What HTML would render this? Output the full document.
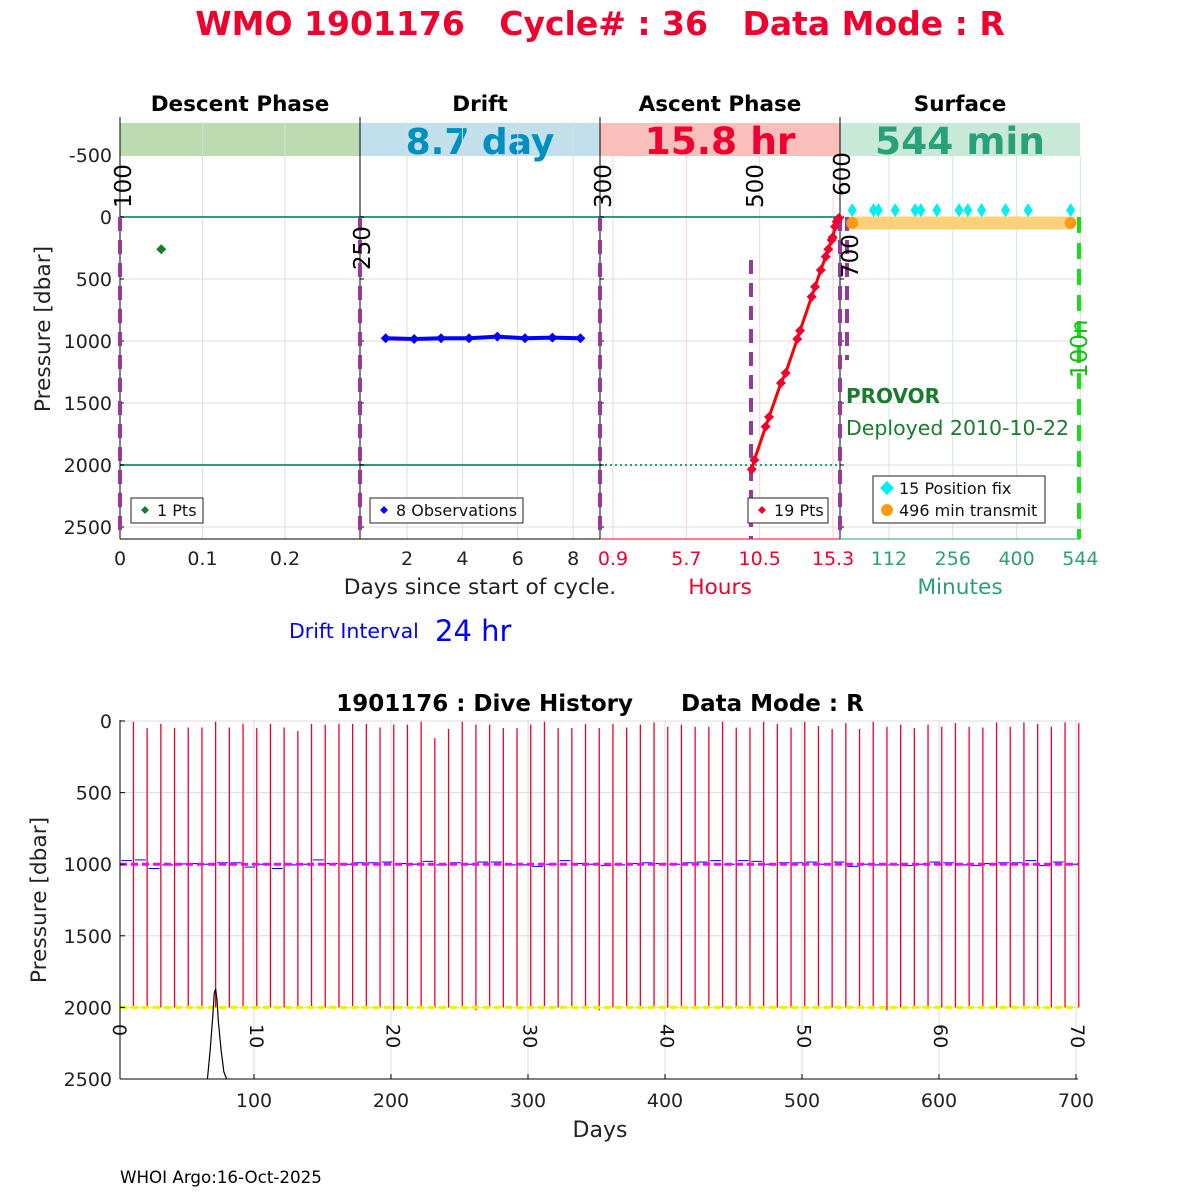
<!DOCTYPE html>
<html><head><meta charset="utf-8"><style>
body{margin:0;background:#fff}
svg{display:block;font-family:"DejaVu Sans","Liberation Sans",sans-serif}
text{white-space:pre}
</style></head><body>
<svg id="s" width="1200" height="1200" viewBox="0 0 1200 1200" xmlns="http://www.w3.org/2000/svg">
<text x="600" y="35" text-anchor="middle" font-size="33" font-weight="bold" fill="#f0002e" xml:space="preserve">WMO 1901176   Cycle# : 36   Data Mode : R</text>
<g id="topG"></g>
<g id="bot"></g>
<text x="120" y="1183" font-size="16.7" fill="#000">WHOI Argo:16-Oct-2025</text>
</svg>
<script>
// ---------- data: top panel ----------
const yTicks=[-500,0,500,1000,1500,2000,2500];
const descentDays=[0.05];
const descentPres=[260];
const driftDays=[1.23,2.26,3.23,4.24,5.26,6.26,7.25,8.26];
const driftPres=[978,984,978,978,965,978,973,978];
const ascentHours=[9.98,10.15,10.89,11.11,11.89,12.20,12.96,13.14,13.90,14.12,14.50,14.82,14.99,15.21,15.28,15.43,15.54,15.62,15.69];
const ascentPres=[2035,1960,1691,1613,1339,1258,984,917,643,562,427,320,260,185,164,78,38,16,8];
const fixMinutes=[29,77,88,126,171,184,220,270,290,321,375,426,522];
const fixPres=[-55,-55,-55,-55,-55,-55,-55,-55,-55,-55,-55,-55,-55];
const transmitMinutes=[29,522];
const transmitPres=[48,48];
const descentTicks=[0,0.1,0.2];
const driftTicks=[2,4,6,8];
const ascentTicks=[0.9,5.7,10.5,15.3];
const surfaceTicks=[112,256,400,544];
// ---------- data: dive history ----------
const profileDays=[12,22,32,42,52,62,72,82,92,102,112,122,132,142,152,162,172,182,192,202,212,222,232,242,252,262,272,282,292,302,312,322,332,342,352,362,372,382,392,402,412,422,432,442,452,462,472,482,492,502,512,522,532,542,552,562,572,582,592,602,612,622,632,642,652,662,672,682,692,702];
const profileTop=[5,50,20,50,45,45,5,45,20,50,20,45,70,20,25,20,20,20,45,25,25,5,120,55,5,25,25,50,50,25,5,50,50,20,50,20,45,25,10,40,25,40,40,5,45,45,5,20,45,5,35,55,15,55,5,40,25,50,25,40,15,40,45,10,40,10,20,40,10,15];
const profileBottom=[2000,2000,2000,2000,2000,2000,2000,2000,2000,2000,2000,2000,2000,2000,2000,2000,2000,2000,2000,2020,2000,2000,2000,2000,2000,2020,2000,2000,2000,2000,2000,2000,2000,2000,2020,2000,2000,2000,2000,2000,2000,2000,2000,2000,2000,2000,2000,2000,2000,2000,2000,2000,2000,2000,2000,2020,2000,2000,2000,2000,2000,2000,2000,2000,2000,2000,2000,2000,2000,2000];
const driftMean=[975,970,1030,1005,998,995,1000,990,990,1020,1000,1030,1005,1000,970,995,1000,990,990,985,995,1000,980,1005,990,1000,985,985,1005,1005,1015,1000,975,995,1000,1010,1005,995,990,995,1000,990,985,975,1000,975,980,1000,990,990,985,1000,985,1015,1000,1005,1005,1010,1000,985,990,1005,1010,995,990,990,975,1010,985,1000];
const histDays=[66,68,70,71,72,73,74,76,78,80];
const histPres=[2500,2300,2050,1900,1870,1950,2100,2300,2450,2500];
const bxTicks=[100,200,300,400,500,600,700];
const byTicks=[0,500,1000,1500,2000,2500];
const cycleTicks=[0,10,20,30,40,50,60,70];

{
const NS="http://www.w3.org/2000/svg";
function mk(par,tag,at,txt){const e=document.createElementNS(NS,tag);for(const k in at)e.setAttribute(k,at[k]);if(txt!==undefined)e.textContent=txt;par.appendChild(e);return e;}
const topG=document.getElementById('topG'),bot=document.getElementById('bot');
const py=p=>217+p*0.124;
const xD=d=>120+d*825, xR=d=>407+(d-2)*27.7, xA=h=>613+(h-0.9)*15.28, xS=m=>889+(m-112)*0.443;
const T=122,B=539;
const bands=[[120,'#bcdbb0','Descent Phase','','#000',0],[360,'#c1e0eb','Drift','8.7 day','#0090c0',36],[600,'#fbbfbb','Ascent Phase','15.8 hr','#f0002e',37.5],[840,'#c8e8d8','Surface','544 min','#2aa07a',37.5]];
bands.forEach((b,i)=>{
  let r=mk(topG,'rect',{x:b[0],y:123,width:240,height:33,fill:b[1]});
  
  
  let t=mk(topG,'text',{x:b[0]+120,y:111,'text-anchor':'middle','font-size':21.5,'font-weight':'bold',fill:'#000'},b[2]);
  
  
  if(b[3]){let v=mk(topG,'text',{x:b[0]+120,y:154,'text-anchor':'middle','font-size':b[5],'font-weight':'bold',fill:b[4]},b[3]);
  
  }
});
yTicks.forEach(v=>{if(v>=0)mk(topG,'line',{x1:120,x2:1080,y1:py(v),y2:py(v),stroke:'#dcdcdc','stroke-width':1});});
descentTicks.forEach(v=>{if(v>0)mk(topG,'line',{x1:xD(v),x2:xD(v),y1:T,y2:B,stroke:'#dcdcdc'});});
driftTicks.forEach(v=>mk(topG,'line',{x1:xR(v),x2:xR(v),y1:T,y2:B,stroke:'#dcdcdc'}));
ascentTicks.forEach(v=>mk(topG,'line',{x1:xA(v),x2:xA(v),y1:156,y2:B,stroke:'#f8d0d6'}));
surfaceTicks.forEach(v=>mk(topG,'line',{x1:xS(v),x2:xS(v),y1:156,y2:B,stroke:'#cfe8e0'}));
mk(topG,'line',{x1:120,x2:840,y1:py(0),y2:py(0),stroke:'#2a9d7a','stroke-width':2});
mk(topG,'line',{x1:120,x2:600,y1:py(2000),y2:py(2000),stroke:'#2a9d7a','stroke-width':2});
mk(topG,'line',{x1:600,x2:840,y1:py(2000),y2:py(2000),stroke:'#2a9d7a','stroke-width':2,'stroke-dasharray':'2 3'});
[120,360,600,840].forEach(x=>{mk(topG,'line',{x1:x,x2:x,y1:117,y2:B,stroke:'#000'});
 yTicks.forEach(v=>{if(v>=0)mk(topG,'line',{x1:x,x2:x+4,y1:py(v),y2:py(v),stroke:'#000'});});});
mk(topG,'line',{x1:120,x2:600,y1:B,y2:B,stroke:'#000'});
mk(topG,'line',{x1:600,x2:840,y1:B,y2:B,stroke:'#f0002e'});
mk(topG,'line',{x1:840,x2:1080,y1:B,y2:B,stroke:'#2a9d7a'});
yTicks.forEach(v=>{let t=mk(topG,'text',{x:112,y:py(v)+7,'text-anchor':'end','font-size':19,fill:'#222'},v);
 
 });
let yt=mk(topG,'text',{transform:'translate(50,329) rotate(-90)','text-anchor':'middle','font-size':21.7,fill:'#222'},'Pressure [dbar]');


function tickRow(arr,fx,col,name){arr.forEach(v=>{let t=mk(topG,'text',{x:fx(v),y:565,'text-anchor':'middle','font-size':19,fill:col},v);
 
 });}
tickRow(descentTicks,xD,'#222','x-tick-descent');
tickRow(driftTicks,xR,'#222','x-tick-drift');
tickRow(ascentTicks,xA,'#f0002e','x-tick-ascent');
tickRow(surfaceTicks,xS,'#2aa07a','x-tick-surface');
[[480,'Days since start of cycle.','#222'],[720,'Hours','#f0002e'],[960,'Minutes','#2aa07a']].forEach(a=>{let t=mk(topG,'text',{x:a[0],y:594,'text-anchor':'middle','font-size':21.7,fill:a[2]},a[1]);
 
 });
let di=mk(topG,'text',{x:289,y:638,'font-size':20.5,fill:'#0000ff'},'Drift Interval');


let dv=mk(topG,'text',{x:435,y:641,'font-size':29,fill:'#0000ff'},'24 hr');


[[120,217,B],[360,217,B],[600,217,B],[751,260,B],[840,217,B],[847,217,360]].forEach(a=>mk(topG,'line',{x1:a[0],x2:a[0],y1:a[1],y2:a[2],stroke:'#953a9a','stroke-width':4,'stroke-dasharray':'14 9'}));
mk(topG,'line',{x1:1079,x2:1079,y1:217,y2:B,stroke:'#14e014','stroke-width':4,'stroke-dasharray':'16 10'});
[[131,208,'100'],[370,270,'250'],[611,208,'300'],[763,208,'500'],[850,196,'600'],[858,278,'700'],[1087,378,'100n','#14c014']].forEach(a=>{let t=mk(topG,'text',{transform:`translate(${a[0]},${a[1]}) rotate(-90)`,'font-size':23,fill:a[3]||'#000'},a[2]);
 
 });
function dia(g,x,y,r,c){return mk(g,'polygon',{points:`${x},${y-r} ${x+r},${y} ${x},${y+r} ${x-r},${y}`,fill:c});}
descentDays.forEach((d,i)=>{let p=dia(topG,xD(d),py(descentPres[i]),5,'#1a7a2e');
 
 });
let dl=mk(topG,'polyline',{points:driftDays.map((d,i)=>xR(d)+','+py(driftPres[i])).join(' '),fill:'none',stroke:'#0000ff','stroke-width':4});


driftDays.forEach((d,i)=>{let p=dia(topG,xR(d),py(driftPres[i]),5,'#0000ff');
 
 });
let al=mk(topG,'polyline',{points:ascentHours.map((d,i)=>xA(d)+','+py(ascentPres[i])).join(' '),fill:'none',stroke:'#ff0000','stroke-width':3});


ascentHours.forEach((d,i)=>{let p=dia(topG,xA(d),py(ascentPres[i]),5,'#f0002e');
 
 });
let tb=mk(topG,'line',{x1:xS(transmitMinutes[0]),x2:xS(transmitMinutes[1]),y1:py(transmitPres[0]),y2:py(transmitPres[1]),stroke:'#fbd07a','stroke-width':13});


transmitMinutes.forEach((m,i)=>{let c=mk(topG,'circle',{cx:xS(m),cy:py(transmitPres[i]),r:6,fill:'#fb9b14'});
 
 });
fixMinutes.forEach((m,i)=>{const x=xS(m),y=py(fixPres[i]);let p=mk(topG,'polygon',{points:`${x},${y-7} ${x+4.5},${y} ${x},${y+7} ${x-4.5},${y}`,fill:'#00f0f0'});
 
 });
let pv=mk(topG,'text',{x:846,y:403,'font-size':20,'font-weight':'bold',fill:'#1a7a2e'},'PROVOR');


let dp=mk(topG,'text',{x:846,y:435,'font-size':20.5,fill:'#1a7a2e'},'Deployed 2010-10-22');


function legend(x,y,w,h,items){const g=mk(topG,'g',{});
 
 
 mk(g,'rect',{x:x,y:y,width:w,height:h,fill:'#fff',stroke:'#222'});
 items.forEach((it,i)=>{const cy=y+12+i*22;
  if(it[2]==='c')mk(g,'circle',{cx:x+14,cy:cy,r:6,fill:it[0]});else dia(g,x+14,cy,it[2]==='d2'?7:4,it[0]);
  mk(g,'text',{x:x+26,y:cy+6,'font-size':16,fill:'#111'},it[1]);});}
legend(131,498,72,25,[['#1a7a2e','1 Pts']]);
legend(370,498,153,25,[['#0000ff','8 Observations']]);
legend(748,498,80,25,[['#f0002e','19 Pts']]);
legend(873,476,172,47,[['#00f0f0','15 Position fix','d2'],['#fb9b14','496 min transmit','c']]);

// ---------- bottom panel ----------
const bx=d=>254+(d-100)*1.37, by=p=>721+p*0.1432;
const L=120,R=1078,BT=720,BB=1079;
let bt=mk(bot,'text',{x:600,y:711,'text-anchor':'middle','font-size':23,'font-weight':'bold',fill:'#000'},'1901176 : Dive History      Data Mode : R');


byTicks.forEach(v=>mk(bot,'line',{x1:L,x2:R,y1:by(v),y2:by(v),stroke:'#dcdcdc'}));
bxTicks.forEach(v=>mk(bot,'line',{x1:bx(v),x2:bx(v),y1:BT,y2:BB,stroke:'#dcdcdc'}));
profileDays.forEach((d,i)=>{let l=mk(bot,'line',{x1:bx(d),x2:bx(d),y1:by(profileTop[i]),y2:by(profileBottom[i]),stroke:'#f0002e','stroke-width':1.3});
 
 });
profileDays.forEach((d,i)=>{let l=mk(bot,'line',{x1:bx(d-9),x2:bx(d-1),y1:by(driftMean[i]),y2:by(driftMean[i]),stroke:'#0000ff','stroke-width':1});
 
 });
let mg=mk(bot,'line',{x1:L,x2:R,y1:by(1000),y2:by(1000),stroke:'#ff00ff','stroke-width':3,'stroke-dasharray':'7 4'});


let yl=mk(bot,'line',{x1:L,x2:R,y1:by(2000),y2:by(2000),stroke:'#f0f000','stroke-width':3,'stroke-dasharray':'7 4'});


let hs=mk(bot,'polyline',{points:histDays.map((d,i)=>bx(d)+','+by(histPres[i])).join(' '),fill:'none',stroke:'#000','stroke-width':1.2});


mk(bot,'line',{x1:L,x2:L,y1:BT,y2:BB,stroke:'#000'});
mk(bot,'line',{x1:L,x2:R,y1:BB,y2:BB,stroke:'#000'});
byTicks.forEach(v=>{mk(bot,'line',{x1:L,x2:L+5,y1:by(v),y2:by(v),stroke:'#000'});
 let t=mk(bot,'text',{x:112,y:by(v)+7,'text-anchor':'end','font-size':19,fill:'#222'},v);
 
 });
bxTicks.forEach(v=>{mk(bot,'line',{x1:bx(v),x2:bx(v),y1:BB,y2:BB-5,stroke:'#000'});
 let t=mk(bot,'text',{x:bx(v),y:1107,'text-anchor':'middle','font-size':19,fill:'#222'},v);
 
 });
cycleTicks.forEach(c=>{let x=L+c*(R-L)/70;let t=mk(bot,'text',{transform:`translate(${x-7},1024) rotate(90)`,'font-size':19,fill:'#111'},c);
 
 });
let bxl=mk(bot,'text',{x:600,y:1137,'text-anchor':'middle','font-size':22,fill:'#222'},'Days');


let byl=mk(bot,'text',{transform:'translate(46,900) rotate(-90)','text-anchor':'middle','font-size':21.7,fill:'#222'},'Pressure [dbar]');


}
</script>
</body></html>
